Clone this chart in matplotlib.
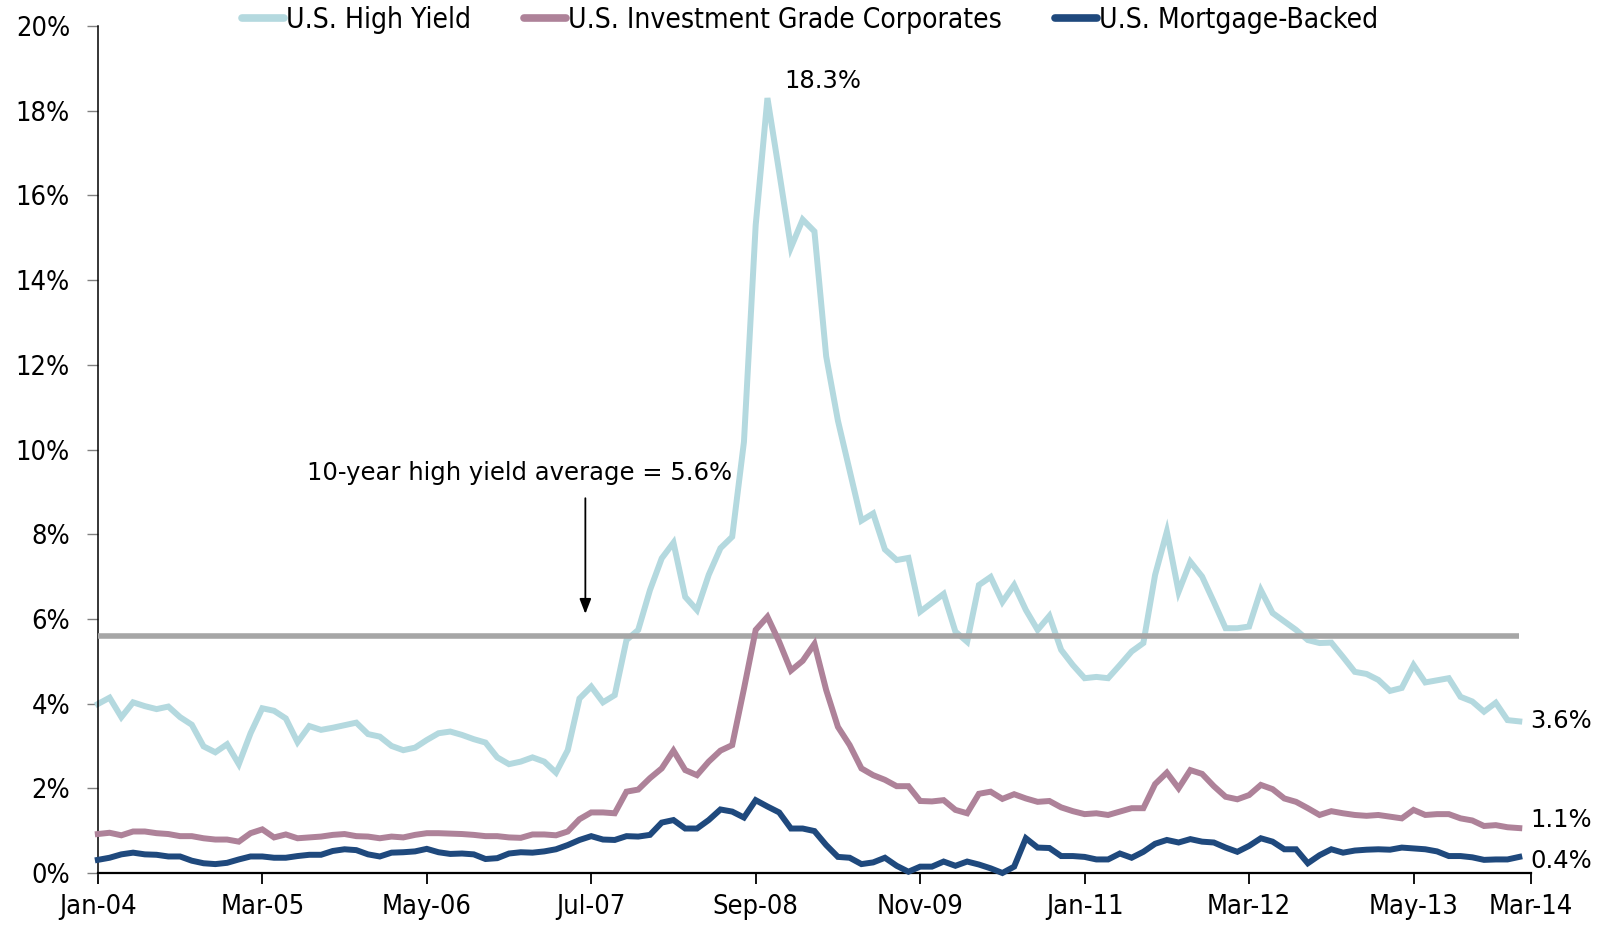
import numpy as np
import pandas as pd
import matplotlib
matplotlib.use("Agg")
import matplotlib.pyplot as plt
from matplotlib import font_manager as fm

# ---------------- data (percent) ----------------
high_yield = [
    3.99, 4.14, 3.68, 4.03, 3.94, 3.87, 3.93, 3.68, 3.50, 2.99, 2.85, 3.04,
    2.57, 3.30, 3.89, 3.83, 3.65, 3.09, 3.47, 3.38, 3.43, 3.49, 3.55, 3.28,
    3.22, 3.00, 2.90, 2.96, 3.14, 3.30, 3.34, 3.26, 3.16, 3.08, 2.73, 2.57,
    2.63, 2.73, 2.63, 2.37, 2.90, 4.12, 4.40, 4.03, 4.20, 5.50, 5.74, 6.68,
    7.43, 7.80, 6.52, 6.21, 7.04, 7.67, 7.94, 10.18, 15.30, 18.30, 16.55, 14.77,
    15.43, 15.15, 12.20, 10.68, 9.50, 8.32, 8.49, 7.64, 7.39, 7.44, 6.17, 6.38,
    6.59, 5.70, 5.46, 6.80, 6.99, 6.40, 6.80, 6.21, 5.74, 6.07, 5.27, 4.91,
    4.60, 4.63, 4.60, 4.91, 5.23, 5.43, 7.04, 8.06, 6.64, 7.35, 7.00, 6.40,
    5.78, 5.78, 5.82, 6.68, 6.14, 5.94, 5.74, 5.50, 5.43, 5.44, 5.10, 4.75,
    4.70, 4.56, 4.30, 4.37, 4.91, 4.50, 4.55, 4.60, 4.16, 4.05, 3.81, 4.02,
    3.61, 3.58,
]
inv_grade = [
    0.92, 0.95, 0.89, 0.98, 0.98, 0.94, 0.92, 0.87, 0.87, 0.82, 0.79, 0.79,
    0.74, 0.94, 1.03, 0.84, 0.91, 0.82, 0.84, 0.86, 0.90, 0.92, 0.87, 0.86,
    0.82, 0.86, 0.84, 0.90, 0.94, 0.94, 0.93, 0.92, 0.90, 0.87, 0.87, 0.84,
    0.83, 0.91, 0.91, 0.89, 0.98, 1.27, 1.43, 1.43, 1.41, 1.92, 1.97, 2.24,
    2.47, 2.89, 2.43, 2.31, 2.63, 2.89, 3.02, 4.35, 5.74, 6.05, 5.46, 4.78,
    5.01, 5.41, 4.32, 3.45, 3.02, 2.47, 2.31, 2.20, 2.05, 2.05, 1.70, 1.69,
    1.72, 1.49, 1.41, 1.87, 1.92, 1.75, 1.86, 1.76, 1.68, 1.70, 1.55, 1.46,
    1.39, 1.41, 1.37, 1.45, 1.53, 1.53, 2.10, 2.37, 2.00, 2.43, 2.34, 2.05,
    1.80, 1.74, 1.84, 2.08, 1.98, 1.76, 1.68, 1.53, 1.37, 1.46, 1.41, 1.37,
    1.35, 1.37, 1.33, 1.29, 1.49, 1.37, 1.39, 1.39, 1.29, 1.24, 1.11, 1.13,
    1.08, 1.06,
]
mortgage = [
    0.31, 0.36, 0.44, 0.48, 0.44, 0.43, 0.39, 0.39, 0.29, 0.23, 0.21, 0.24,
    0.32, 0.39, 0.39, 0.36, 0.36, 0.40, 0.43, 0.43, 0.52, 0.56, 0.54, 0.44,
    0.39, 0.48, 0.49, 0.51, 0.57, 0.49, 0.45, 0.46, 0.44, 0.33, 0.35, 0.46,
    0.49, 0.48, 0.51, 0.56, 0.66, 0.78, 0.87, 0.79, 0.78, 0.87, 0.86, 0.90,
    1.19, 1.25, 1.05, 1.05, 1.25, 1.50, 1.45, 1.31, 1.72, 1.57, 1.43, 1.05,
    1.05, 0.99, 0.66, 0.38, 0.36, 0.21, 0.25, 0.36, 0.17, 0.03, 0.15, 0.15,
    0.27, 0.17, 0.27, 0.20, 0.11, 0.00, 0.15, 0.82, 0.60, 0.59, 0.40, 0.40,
    0.38, 0.32, 0.32, 0.46, 0.36, 0.50, 0.69, 0.78, 0.72, 0.80, 0.74, 0.72,
    0.60, 0.50, 0.64, 0.82, 0.74, 0.56, 0.56, 0.23, 0.42, 0.56, 0.48, 0.53,
    0.55, 0.56, 0.55, 0.60, 0.58, 0.56, 0.51, 0.40, 0.40, 0.37, 0.31, 0.32,
    0.32, 0.38,
]
hy_average = 5.6

series_names = ["U.S. High Yield", "U.S. Investment Grade Corporates", "U.S. Mortgage-Backed"]
series_colors = ["#B4D9DF", "#AE8299", "#1F497D"]

tick_labels = ["Jan-04", "Mar-05", "May-06", "Jul-07", "Sep-08", "Nov-09",
               "Jan-11", "Mar-12", "May-13", "Mar-14"]
y_ticks = [0, 2, 4, 6, 8, 10, 12, 14, 16, 18, 20]

months = pd.date_range("2004-01-01", "2014-03-01", freq="MS")
labels_all = [d.strftime("%b-%y") for d in months]
tick_pos = [labels_all.index(t) for t in tick_labels]
x = np.arange(len(high_yield))

# ---------------- narrow font lookup ----------------
def find_font(keys):
    files = fm.findSystemFonts()
    for key in keys:
        for f in files:
            if f.split("/")[-1].lower() == key.lower():
                return f
    return None

narrow_path = find_font(["LiberationSansNarrow-Regular.ttf"])
size_scale = 1.0
if narrow_path is None:
    narrow_path = find_font(["DejaVuSansCondensed.ttf"])
    size_scale = 0.92
if narrow_path is not None:
    def nfont(size):
        return fm.FontProperties(fname=narrow_path, size=size * size_scale)
else:
    def nfont(size):
        return fm.FontProperties(family="DejaVu Sans", size=size * 0.85)

tick_fp = nfont(21.2)
leg_fp = nfont(22)

# ---------------- figure ----------------
fig = plt.figure(figsize=(16.04, 9.30), dpi=100)
ax = fig.add_axes([0.061, 0.0613, 0.8935, 0.9107])

lw = 4.3
l1, = ax.plot(x, high_yield, color=series_colors[0], lw=lw, zorder=2,
              solid_joinstyle="miter", clip_on=False)
ax.plot([x[0], x[-1]], [hy_average, hy_average], color="#A6A6A6", lw=4.0,
        zorder=3, solid_capstyle="butt")
l2, = ax.plot(x, inv_grade, color=series_colors[1], lw=lw, zorder=4,
              solid_joinstyle="miter", clip_on=False)
l3, = ax.plot(x, mortgage, color=series_colors[2], lw=lw, zorder=5,
              solid_joinstyle="miter", clip_on=False)

ax.set_xlim(0, len(months) - 1)
ax.set_ylim(0, 20)
ax.set_xticks(tick_pos)
ax.set_xticklabels(tick_labels)
ax.set_yticks(y_ticks)
ax.set_yticklabels([f"{v}%" for v in y_ticks])
for lab in ax.get_xticklabels() + ax.get_yticklabels():
    lab.set_fontproperties(tick_fp)

for s in ["top", "right"]:
    ax.spines[s].set_visible(False)
ax.spines["left"].set_linewidth(1.1)
ax.spines["bottom"].set_linewidth(1.6)
ax.tick_params(axis="x", direction="out", length=8, width=1.3,
               pad=7, colors="black")
ax.tick_params(axis="y", direction="out", length=8, width=1.0,
               pad=12, color="#808080", labelcolor="black")

leg = fig.legend([l1, l2, l3], series_names, loc="center",
                 bbox_to_anchor=(0.505, 0.979), ncol=3, frameon=False,
                 prop=leg_fp, handlelength=1.5, handletextpad=0.05,
                 columnspacing=1.9)
for h in leg.get_lines():
    h.set_linewidth(5.5)
    h.set_solid_capstyle("round")

# annotations
ann_font = ["DejaVu Sans"]
ann_size = 17.5
peak_i = int(np.argmax(high_yield))
ax.annotate(f"{high_yield[peak_i]:.1f}%", xy=(peak_i, high_yield[peak_i]),
            xytext=(12, 12), textcoords="offset points", ha="left", va="center",
            fontsize=ann_size, family=ann_font)

ends = [(high_yield, 0), (inv_grade, 6), (mortgage, -3)]
for vals, dy in ends:
    ax.annotate(f"{vals[-1]:.1f}%", xy=(x[-1], vals[-1]), xytext=(8, dy),
                textcoords="offset points", ha="left", va="center",
                fontsize=ann_size, family=ann_font, annotation_clip=False)

ax.text(35.9, 9.45, f"10-year high yield average = {hy_average}%", ha="center",
        va="center", fontsize=ann_size, family=ann_font)
ax.annotate("", xy=(41.5, 6.12), xytext=(41.5, 8.85),
            arrowprops=dict(arrowstyle="-|>,head_length=0.9,head_width=0.35",
                            color="black", lw=1.3, shrinkA=0, shrinkB=0))

fig.savefig("out.png", dpi=100)
